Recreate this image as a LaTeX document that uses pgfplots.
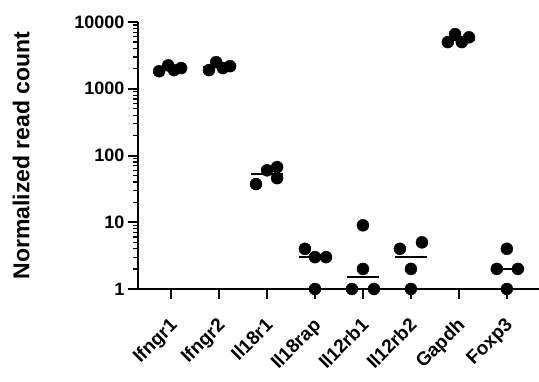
\documentclass[border=0pt]{standalone}
\usepackage{pgfplots}
\pgfplotsset{compat=1.18}
\usepackage{pgfplotstable}
\usepackage{fontspec}
\setmainfont{Liberation Sans}

\pgfplotstableread{
x y
-0.25 1830
-0.06 2240
0.06 1900
0.21 2040
0.79 1900
0.94 2500
1.08 2040
1.23 2180
1.77 37.3
2.00 60
2.21 67
2.21 45.8
2.79 4
3.00 3
3.23 3
3.00 1
4.00 9
4.00 2
3.77 1
4.23 1
4.77 4
5.23 5
5.00 2
5.00 1
5.77 5000
5.92 6580
6.06 5000
6.21 5900
7.00 4
6.79 2
7.23 2
7.00 1
}\points

\pgfplotstableread{
x y
0 1970
1 2110
2 53
3 3
4 1.5
5 3
6 5450
7 2
}\medians

\begin{document}
\begin{tikzpicture}
\path[use as bounding box] (0,0) rectangle (539pt,381pt);
\begin{axis}[
  at={(138pt,92pt)}, anchor=south west,
  scale only axis, width=401pt, height=267pt,
  ymode=log, ymin=1, ymax=10000,
  xmin=-0.69, xmax=7.67,
  axis x line=bottom, axis y line=left,
  axis line style={-, line width=2pt},
  clip=false,
  tick align=outside,
  major tick length=10pt, minor tick length=5pt,
  major tick style={line width=2pt, black},
  minor tick style={line width=1.2pt, black},
  xtick={0,...,7},
  xticklabels={Ifngr1,Ifngr2,Il18r1,Il18rap,Il12rb1,Il12rb2,Gapdh,Foxp3},
  x tick label style={rotate=45, anchor=north east, xshift=-11pt, yshift=-7pt, font=\fontsize{19}{19}\selectfont\bfseries},
  ytick={1,10,100,1000,10000},
  yticklabels={1,10,100,1000,10000},
  minor ytick={2,3,4,5,6,7,8,9,20,30,40,50,60,70,80,90,200,300,400,500,600,700,800,900,2000,3000,4000,5000,6000,7000,8000,9000},
  y tick label style={font=\fontsize{18}{18}\selectfont\bfseries},
  ylabel={Normalized read count},
  ylabel style={font=\fontsize{23}{23}\selectfont\bfseries},
  ylabel shift=38pt,
]
\addplot[only marks, mark=-, mark size=16pt, line width=2.5pt, black] table {\medians};
\addplot[only marks, mark=*, mark size=6pt, black, mark options={fill=black, draw=black}] table {\points};
\end{axis}
\end{tikzpicture}
\end{document}
